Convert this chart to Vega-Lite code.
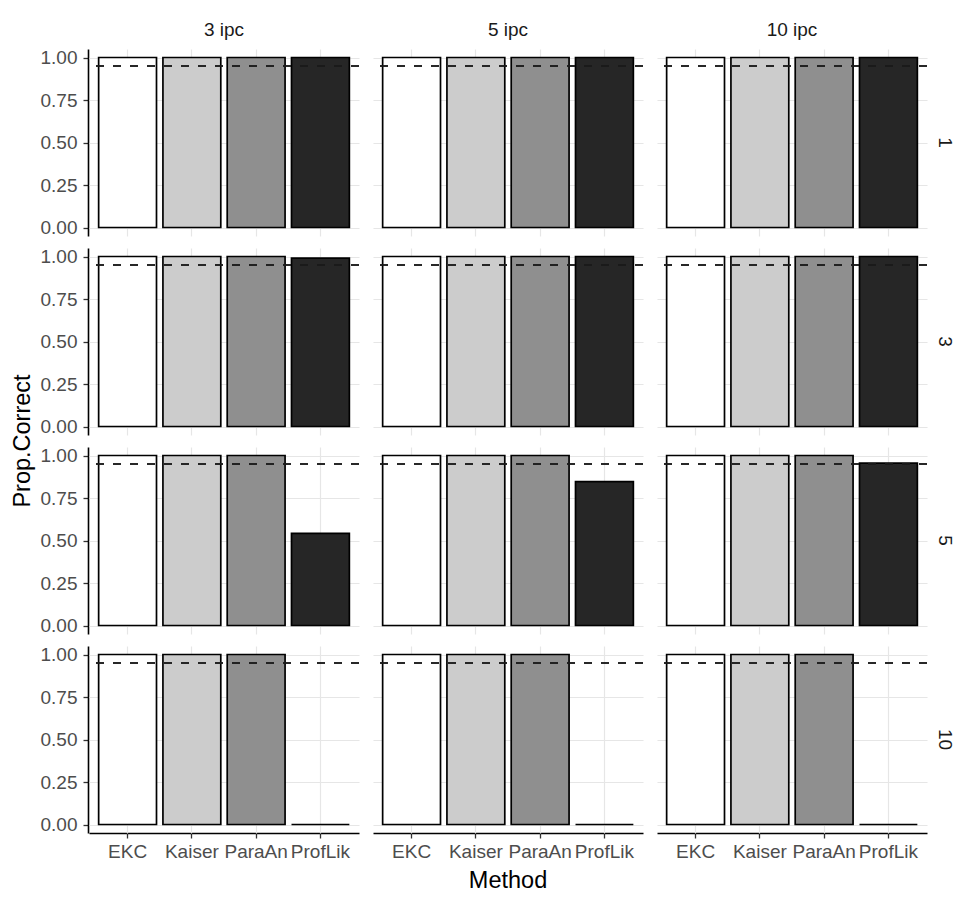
{
  "$schema": "https://vega.github.io/schema/vega-lite/v6.json",
  "background": "white",
  "padding": {"left": 10, "top": 21, "right": 10, "bottom": 10},
  "data": {"values": [
    {"ipc": "3 ipc", "k": 1, "Method": "EKC", "prop": 1},
    {"ipc": "3 ipc", "k": 1, "Method": "Kaiser", "prop": 1},
    {"ipc": "3 ipc", "k": 1, "Method": "ParaAn", "prop": 1},
    {"ipc": "3 ipc", "k": 1, "Method": "ProfLik", "prop": 1},
    {"ipc": "5 ipc", "k": 1, "Method": "EKC", "prop": 1},
    {"ipc": "5 ipc", "k": 1, "Method": "Kaiser", "prop": 1},
    {"ipc": "5 ipc", "k": 1, "Method": "ParaAn", "prop": 1},
    {"ipc": "5 ipc", "k": 1, "Method": "ProfLik", "prop": 1},
    {"ipc": "10 ipc", "k": 1, "Method": "EKC", "prop": 1},
    {"ipc": "10 ipc", "k": 1, "Method": "Kaiser", "prop": 1},
    {"ipc": "10 ipc", "k": 1, "Method": "ParaAn", "prop": 1},
    {"ipc": "10 ipc", "k": 1, "Method": "ProfLik", "prop": 1},
    {"ipc": "3 ipc", "k": 3, "Method": "EKC", "prop": 1},
    {"ipc": "3 ipc", "k": 3, "Method": "Kaiser", "prop": 1},
    {"ipc": "3 ipc", "k": 3, "Method": "ParaAn", "prop": 1},
    {"ipc": "3 ipc", "k": 3, "Method": "ProfLik", "prop": 0.99},
    {"ipc": "5 ipc", "k": 3, "Method": "EKC", "prop": 1},
    {"ipc": "5 ipc", "k": 3, "Method": "Kaiser", "prop": 1},
    {"ipc": "5 ipc", "k": 3, "Method": "ParaAn", "prop": 1},
    {"ipc": "5 ipc", "k": 3, "Method": "ProfLik", "prop": 1},
    {"ipc": "10 ipc", "k": 3, "Method": "EKC", "prop": 1},
    {"ipc": "10 ipc", "k": 3, "Method": "Kaiser", "prop": 1},
    {"ipc": "10 ipc", "k": 3, "Method": "ParaAn", "prop": 1},
    {"ipc": "10 ipc", "k": 3, "Method": "ProfLik", "prop": 1},
    {"ipc": "3 ipc", "k": 5, "Method": "EKC", "prop": 1},
    {"ipc": "3 ipc", "k": 5, "Method": "Kaiser", "prop": 1},
    {"ipc": "3 ipc", "k": 5, "Method": "ParaAn", "prop": 1},
    {"ipc": "3 ipc", "k": 5, "Method": "ProfLik", "prop": 0.542},
    {"ipc": "5 ipc", "k": 5, "Method": "EKC", "prop": 1},
    {"ipc": "5 ipc", "k": 5, "Method": "Kaiser", "prop": 1},
    {"ipc": "5 ipc", "k": 5, "Method": "ParaAn", "prop": 1},
    {"ipc": "5 ipc", "k": 5, "Method": "ProfLik", "prop": 0.846},
    {"ipc": "10 ipc", "k": 5, "Method": "EKC", "prop": 1},
    {"ipc": "10 ipc", "k": 5, "Method": "Kaiser", "prop": 1},
    {"ipc": "10 ipc", "k": 5, "Method": "ParaAn", "prop": 1},
    {"ipc": "10 ipc", "k": 5, "Method": "ProfLik", "prop": 0.955},
    {"ipc": "3 ipc", "k": 10, "Method": "EKC", "prop": 1},
    {"ipc": "3 ipc", "k": 10, "Method": "Kaiser", "prop": 1},
    {"ipc": "3 ipc", "k": 10, "Method": "ParaAn", "prop": 1},
    {"ipc": "3 ipc", "k": 10, "Method": "ProfLik", "prop": 0},
    {"ipc": "5 ipc", "k": 10, "Method": "EKC", "prop": 1},
    {"ipc": "5 ipc", "k": 10, "Method": "Kaiser", "prop": 1},
    {"ipc": "5 ipc", "k": 10, "Method": "ParaAn", "prop": 1},
    {"ipc": "5 ipc", "k": 10, "Method": "ProfLik", "prop": 0},
    {"ipc": "10 ipc", "k": 10, "Method": "EKC", "prop": 1},
    {"ipc": "10 ipc", "k": 10, "Method": "Kaiser", "prop": 1},
    {"ipc": "10 ipc", "k": 10, "Method": "ParaAn", "prop": 1},
    {"ipc": "10 ipc", "k": 10, "Method": "ProfLik", "prop": 0}
  ]},
  "facet": {
    "row": {"field": "k", "type": "ordinal", "sort": [1, 3, 5, 10], "title": "Prop.Correct",
      "header": {"titleOrient": "left", "titleFontSize": 23.5, "titleFontWeight": "normal", "titleColor": "black", "titleFont": "Liberation Sans", "titlePadding": -4,
        "labelOrient": "right", "labelAngle": 90, "labelFontSize": 19, "labelFont": "Liberation Sans", "labelColor": "#1a1a1a", "labelPadding": -2, "labelAlign": "center", "labelBaseline": "middle"}},
    "column": {"field": "ipc", "type": "ordinal", "sort": ["3 ipc", "5 ipc", "10 ipc"], "title": "Method",
      "header": {"titleOrient": "bottom", "titleFontSize": 23.5, "titleFontWeight": "normal", "titleColor": "black", "titleFont": "Liberation Sans", "titlePadding": -2,
        "labelOrient": "top", "labelFontSize": 19, "labelFont": "Liberation Sans", "labelColor": "#1a1a1a", "labelPadding": 9}}
  },
  "spacing": 12,
  "spec": {
    "width": 270,
    "height": 187,
    "layer": [
      {
        "mark": {"type": "bar", "stroke": "black", "strokeWidth": 1.7},
        "encoding": {
          "x": {"field": "Method", "type": "nominal", "sort": ["EKC", "Kaiser", "ParaAn", "ProfLik"],
            "scale": {"paddingInner": 0.1, "paddingOuter": 0.15},
            "axis": {"title": null, "labelAngle": 0, "grid": true, "gridColor": "#e6e6e6", "gridWidth": 1.2, "tickBand": "center", "labelPadding": 4, "tickSize": 5}},
          "y": {"field": "prop", "type": "quantitative",
            "scale": {"domain": [-0.05, 1.05], "nice": false, "zero": false},
            "axis": {"title": null,
              "values": [0, 0.125, 0.25, 0.375, 0.5, 0.625, 0.75, 0.875, 1],
              "labelExpr": "(datum.value*8)%2==0 ? format(datum.value, '.2f') : ''",
              "tickOpacity": {"condition": {"test": "(datum.value*8)%2!=0", "value": 0}, "value": 1},
              "gridWidth": {"condition": {"test": "(datum.value*8)%2!=0", "value": 0.6}, "value": 1.2},
              "gridColor": "#e6e6e6", "tickSize": 5, "labelPadding": 6}},
          "y2": {"datum": 0},
          "fill": {"field": "Method", "type": "nominal",
            "scale": {"domain": ["EKC", "Kaiser", "ParaAn", "ProfLik"], "range": ["#ffffff", "#cccccc", "#8f8f8f", "#262626"]},
            "legend": null}
        }
      },
      {
        "mark": {"type": "rule", "strokeDash": [8, 9], "color": "#1a1a1a", "strokeWidth": 1.2},
        "encoding": {"y": {"datum": 0.95}}
      }
    ]
  },
  "config": {
    "view": {"stroke": null},
    "font": "Liberation Sans",
    "axis": {
      "domainColor": "black", "domainWidth": 1.6,
      "tickColor": "#333333", "tickWidth": 1.3,
      "labelColor": "#4d4d4d", "labelFontSize": 19, "labelFont": "Liberation Sans"
    }
  }
}
